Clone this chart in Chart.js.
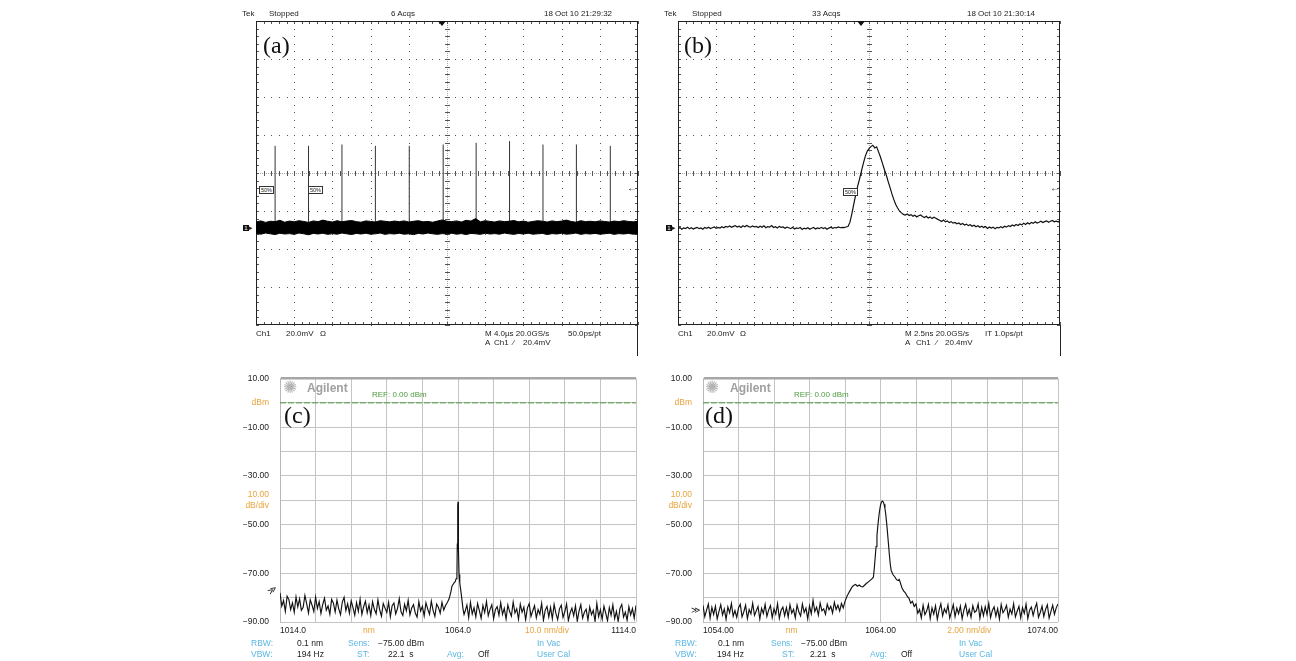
<!DOCTYPE html>
<html><head><meta charset="utf-8">
<script src="https://cdn.jsdelivr.net/npm/chart.js@4.4.1/dist/chart.umd.min.js"></script>
<style>
html,body{margin:0;padding:0;background:#fff;}
body{width:1296px;height:661px;position:relative;overflow:hidden;font-family:'Liberation Sans',Arial,sans-serif;}
canvas{position:absolute;}
.t{position:absolute;white-space:pre;line-height:1;color:#222;}
.s{font-size:8px;}
.o{font-size:8.5px;}
.lbl{font-family:'Liberation Serif','Times New Roman',serif;font-size:24px;color:#111;}
.bl{color:#5ab6e4;}
.or{color:#e9a43c;}
.gr{color:#4e9a3e;font-size:8px;}
.ag{font-weight:bold;font-size:12px;color:#a0a0a0;}
.star{font-size:17px;color:#b4b4b4;font-family:'DejaVu Sans',sans-serif;}
.vl{position:absolute;width:1px;background:#222;}
.tri{position:absolute;width:0;height:0;border-left:4px solid transparent;border-right:4px solid transparent;border-top:5px solid #111;}
.tag{position:absolute;border:1px solid #333;font-size:5.5px;line-height:6px;padding:0 1px;color:#222;background:#fff;}
.gnd{position:absolute;background:#111;color:#fff;font-size:6px;line-height:6px;width:6px;height:6px;text-align:center;}
</style></head>
<body>
<canvas id="ca" width="402" height="324" style="left:246px;top:11px"></canvas>
<canvas id="cb" width="402" height="324" style="left:668px;top:11px"></canvas>
<canvas id="cc" width="430" height="282" style="left:220px;top:362px"></canvas>
<canvas id="cd" width="430" height="282" style="left:643px;top:362px"></canvas>

<!-- scope (a) texts -->
<div class="t s" style="left:242px;top:10px">Tek</div>
<div class="t s" style="left:269px;top:10px">Stopped</div>
<div class="t s" style="left:391px;top:10px">6 Acqs</div>
<div class="t s" style="left:544px;top:10px">18 Oct 10 21:29:32</div>
<div class="t s" style="left:256px;top:330px">Ch1</div>
<div class="t s" style="left:286px;top:330px">20.0mV</div>
<div class="t s" style="left:320px;top:330px">Ω</div>
<div class="t s" style="left:485px;top:330px">M 4.0µs 20.0GS/s</div>
<div class="t s" style="left:568px;top:330px">50.0ps/pt</div>
<div class="t s" style="left:485px;top:338.5px">A</div>
<div class="t s" style="left:494px;top:338.5px">Ch1</div>
<div class="t s" style="left:513px;top:338.5px">⁄</div>
<div class="t s" style="left:523px;top:338.5px">20.4mV</div>
<div class="vl" style="left:637px;top:325px;height:31px"></div>
<div class="tri" style="left:438px;top:21px"></div>
<div class="tag" style="left:259px;top:186px">50%</div>
<div class="tag" style="left:308px;top:186px">50%</div>
<div class="t" style="left:627px;top:183px;font-size:10px">←</div>
<div class="gnd" style="left:243px;top:225px">1</div>
<div class="t" style="left:249px;top:224px;font-size:7px">▸</div>
<div class="t lbl" style="left:263px;top:33px">(a)</div>

<!-- scope (b) texts -->
<div class="t s" style="left:664px;top:10px">Tek</div>
<div class="t s" style="left:692px;top:10px">Stopped</div>
<div class="t s" style="left:812px;top:10px">33 Acqs</div>
<div class="t s" style="left:967px;top:10px">18 Oct 10 21:30:14</div>
<div class="t s" style="left:678px;top:330px">Ch1</div>
<div class="t s" style="left:707px;top:330px">20.0mV</div>
<div class="t s" style="left:740px;top:330px">Ω</div>
<div class="t s" style="left:905px;top:330px">M 2.5ns 20.0GS/s</div>
<div class="t s" style="left:985px;top:330px">IT 1.0ps/pt</div>
<div class="t s" style="left:905px;top:338.5px">A</div>
<div class="t s" style="left:916px;top:338.5px">Ch1</div>
<div class="t s" style="left:936px;top:338.5px">⁄</div>
<div class="t s" style="left:945px;top:338.5px">20.4mV</div>
<div class="vl" style="left:1060px;top:325px;height:31px"></div>
<div class="tri" style="left:857px;top:21px"></div>
<div class="tag" style="left:843px;top:188px">50%</div>
<div class="t" style="left:1050px;top:183px;font-size:10px">←</div>
<div class="gnd" style="left:666px;top:225px">1</div>
<div class="t" style="left:672px;top:224px;font-size:7px">▸</div>
<div class="t lbl" style="left:684px;top:33px">(b)</div>

<!-- OSA (c) texts -->
<div class="t star" style="left:283px;top:379px">✺</div>
<div class="t ag" style="left:307px;top:382px">Agilent</div>
<div class="t gr" style="left:372px;top:391px">REF: 0.00 dBm</div>
<div class="t lbl" style="left:284px;top:403px">(c)</div>
<div class="t" style="left:268px;top:586px;font-size:9px;transform:rotate(-35deg)">≫</div>
<div class="t o bl" style="left:251px;top:639px">RBW:</div>
<div class="t o" style="left:297px;top:639px">0.1 nm</div>
<div class="t o bl" style="left:348px;top:639px">Sens:</div>
<div class="t o" style="left:378px;top:639px">−75.00 dBm</div>
<div class="t o bl" style="left:537px;top:639px">In Vac</div>
<div class="t o bl" style="left:251px;top:650px">VBW:</div>
<div class="t o" style="left:297px;top:650px">194 Hz</div>
<div class="t o bl" style="left:357px;top:650px">ST:</div>
<div class="t o" style="left:388px;top:650px">22.1  s</div>
<div class="t o bl" style="left:447px;top:650px">Avg:</div>
<div class="t o" style="left:478px;top:650px">Off</div>
<div class="t o bl" style="left:537px;top:650px">User Cal</div>

<!-- OSA (d) texts -->
<div class="t star" style="left:705px;top:379px">✺</div>
<div class="t ag" style="left:730px;top:382px">Agilent</div>
<div class="t gr" style="left:794px;top:391px">REF: 0.00 dBm</div>
<div class="t lbl" style="left:705px;top:403px">(d)</div>
<div class="t" style="left:691px;top:606px;font-size:9px">≫</div>
<div class="t o bl" style="left:675px;top:639px">RBW:</div>
<div class="t o" style="left:718px;top:639px">0.1 nm</div>
<div class="t o bl" style="left:771px;top:639px">Sens:</div>
<div class="t o" style="left:801px;top:639px">−75.00 dBm</div>
<div class="t o bl" style="left:959px;top:639px">In Vac</div>
<div class="t o bl" style="left:675px;top:650px">VBW:</div>
<div class="t o" style="left:717px;top:650px">194 Hz</div>
<div class="t o bl" style="left:782px;top:650px">ST:</div>
<div class="t o" style="left:810px;top:650px">2.21  s</div>
<div class="t o bl" style="left:870px;top:650px">Avg:</div>
<div class="t o" style="left:901px;top:650px">Off</div>
<div class="t o bl" style="left:959px;top:650px">User Cal</div>

<script>
// ---------------- Panel (a): oscilloscope, pulse train (time in µs, voltage in mV) ----------------
const timeRangeA = [-20, 20];          // 4.0 µs/div, 10 div
const voltRangeA = [-51, 109];         // 20 mV/div, 8 div, ground marker 1.45 div below centre
const envStartA = -20, envStepA = 0.5; // sampling of the noise band envelopes
const upperA = [
 3.2, 3.8, 3.0, 3.6, 3.4, 4.1, 3.1, 3.7, 3.3, 3.9,
 3.5, 3.0, 3.8, 3.4, 4.2, 3.6, 3.2, 3.9, 3.3, 3.7,
 4.0, 3.4, 3.1, 3.8, 3.5, 3.2, 3.9, 3.6, 3.3, 3.7,
 3.4, 3.8, 3.2, 3.6, 3.9, 3.3, 3.5, 3.1, 3.7, 4.3,
 3.6, 3.4, 3.8, 3.2, 4.1, 3.7, 5.0, 3.3, 3.9, 3.5,
 3.2, 3.8, 3.4, 3.6, 4.0, 3.3, 3.7, 3.1, 3.5, 3.9,
 3.6, 3.2, 3.8, 3.4, 3.7, 4.2, 3.5, 3.1, 3.9, 3.4,
 3.6, 3.3, 3.8, 3.5, 3.2, 3.7, 3.4, 3.9, 3.5, 3.3,
 3.6];
const lowerA = [
 -2.8, -3.2, -2.6, -3.0, -3.4, -2.7, -3.1, -2.9, -3.3, -2.6,
 -3.0, -3.5, -2.8, -3.1, -2.7, -3.3, -2.9, -3.2, -2.6, -3.0,
 -3.4, -2.8, -3.1, -2.7, -3.2, -3.0, -2.6, -3.3, -2.9, -3.1,
 -2.7, -3.2, -3.0, -3.4, -2.8, -3.1, -2.6, -3.0, -3.3, -2.9,
 -3.1, -2.7, -3.2, -2.9, -3.4, -2.8, -3.0, -3.3, -2.7, -3.1,
 -2.9, -3.2, -2.6, -3.0, -3.3, -2.8, -3.1, -2.7, -3.2, -3.0,
 -2.8, -3.4, -2.9, -3.1, -2.7, -3.2, -3.0, -2.6, -3.3, -2.9,
 -3.1, -2.8, -3.2, -3.0, -2.7, -3.3, -2.9, -3.1, -2.8, -3.2,
 -3.0];
const spikeTimesA = [-18.0, -14.5, -11.0, -7.5, -3.95, -0.4, 3.05, 6.55, 10.05, 13.55, 17.1];
const spikePeaksA = [43.3, 43.3, 44.0, 43.3, 43.3, 44.0, 44.9, 45.8, 44.0, 44.0, 43.3];

// ---------------- Panel (b): oscilloscope, single pulse (time in ns, voltage in mV) ----------------
const timeRangeB = [-12.5, 12.5];      // 2.5 ns/div
const voltRangeB = [-51, 109];
const tStartB = -12.5, tStepB = 0.125;
const voltB = [
 -0.4, 0.3, -0.6, 0.1, -0.2, 0.5, -0.3, 0.2, -0.5, 0.0, 0.4, -0.3, 0.1, -0.6, 0.3, -0.1, 0.5, -0.2, 0.2, 0.6, -0.1, 0.4, 0.0, 0.7, 0.2, 0.9,
 0.5, 1.1, 0.4, 0.9, 1.3, 0.6, 1.0, 0.3, 1.2, 0.7, 1.4, 0.8, 0.5, 1.1, 0.6, 0.9, 0.3, 1.0,
 0.4, 1.2, 0.2, 0.8, 0.5, 1.3, 0.3, 0.7, 0.1, 0.9, 0.4, 0.6, -0.1, 0.5, 0.2,
 -0.3, 0.4, -0.5, 0.1, -0.2, 0.3, -0.7, 0.0, -0.4, 0.2, -0.6, -0.1, 0.3, -0.5, 0.1, -0.3, 0.4, -0.2, 0.2, -0.6, 0.0, 0.5, -0.1, 0.3, 0.1, 0.6,
 0.2, 0.4, 0.3, 0.6,
 0.8, 3.0, 7.4, 12.5, 17.4, 21.8, 25.6, 29.8, 33.9, 37.6, 40.3, 41.8, 42.9, 43.6, 42.2, 42.8,
 40.1, 37.4, 34.2, 31.0, 28.1, 24.6, 21.4, 18.0, 15.0, 12.4, 10.6, 8.9, 8.0, 7.2, 6.9, 7.4,
 6.6, 7.1, 6.2, 6.8, 5.9, 6.5, 6.9, 6.1,
 5.6, 6.2, 5.3, 5.9, 5.0, 5.7, 5.2, 4.6,
 4.1, 3.5, 4.2, 3.3, 3.8, 2.9, 3.4, 2.6,
 3.0, 2.3, 2.7, 1.9, 2.4, 1.6, 2.1, 1.3,
 1.8, 1.0, 1.5, 0.7, 1.2, 0.4, 1.0, 0.3,
 0.8, -0.2, 0.6, 0.0, 0.5, -0.3, 0.4, 0.1,
 0.7, 0.2, 1.0, 0.5, 1.3, 0.8, 1.6, 1.1,
 1.9, 1.4, 2.2, 1.7, 2.5, 1.9, 2.8, 2.2,
 3.0, 2.5, 3.3, 2.7, 3.1, 3.6, 2.9, 3.4,
 3.8, 3.1, 3.6, 4.0, 3.3, 3.7, 3.2, 3.9];

// ---------------- Panel (c): spectrum 1014–1114 nm (dBm) ----------------
const wlRangeC = [1014, 1114];
const wlLabelPosC = [1014, 1039, 1064, 1089, 1114];
const wlLabelTextC = ['1014.0', 'nm', '1064.0', '10.0 nm/div', '1114.0'];
const noiseLeftStartC = 1014, noiseStepC = 0.5;
const noiseLeftC = [
 -78.0, -83.5, -81.2, -85.6, -79.4, -80.8, -84.9, -82.1, -86.0, -79.7,
 -83.8, -80.5, -85.2, -84.0, -79.1, -82.6, -86.3, -80.9, -83.1, -85.7,
 -79.8, -84.4, -81.6, -86.5, -82.8, -80.2, -85.1, -83.4, -86.8, -80.7,
 -82.3, -85.9, -81.0, -84.6, -87.0, -81.8, -79.9, -85.3, -82.5, -86.4,
 -81.3, -84.1, -87.2, -82.0, -85.6, -80.6, -86.9, -83.7, -81.5, -86.2,
 -83.0, -87.4, -81.7, -84.8, -86.6, -80.9, -85.0, -87.6, -82.4, -84.3,
 -86.1, -81.9, -87.8, -83.3, -82.2, -86.7, -84.5, -80.4, -85.8, -87.3,
 -82.7, -85.4, -81.1, -87.1, -84.2, -82.9, -86.3, -88.0, -81.6, -85.5,
 -83.6, -87.5, -82.1, -84.7, -86.8, -81.4, -85.2, -87.7, -82.6, -84.0,
 -86.4, -81.9, -85.1, -83.2, -82.0];
const peakWlC = [1061.5, 1062.0, 1062.3, 1062.6, 1062.9, 1063.2, 1063.5, 1063.7, 1063.8, 1063.9, 1063.95, 1064.0, 1064.05, 1064.1, 1064.2, 1064.3, 1064.5, 1064.8, 1065.1, 1065.4, 1065.7];
const peakPwC = [-80.5, -77.6, -75.3, -74.6, -73.9, -73.4, -72.2, -70.8, -58.0, -47.0, -42.5, -40.6, -41.5, -46.0, -60.0, -70.5, -74.0, -77.2, -80.8, -84.6, -86.9];
const noiseRightStartC = 1066;
const noiseRightC = [
 -85.6, -83.0, -88.2, -81.9, -86.7, -84.1, -87.9, -82.4, -85.3, -88.5,
 -83.2, -86.1, -81.6, -87.4, -84.8, -82.9, -88.6, -85.0, -83.7, -87.2,
 -82.1, -86.9, -84.4, -88.8, -83.0, -85.7, -87.6, -81.8, -86.3, -84.6,
 -88.9, -82.7, -86.0, -83.9, -89.1, -84.2, -82.5, -87.7, -85.4, -83.3,
 -88.3, -84.9, -86.8, -82.3, -89.3, -85.1, -83.6, -87.9, -84.0, -88.7,
 -82.8, -86.5, -89.0, -84.6, -83.1, -88.1, -85.8, -82.6, -89.4, -86.2,
 -84.3, -87.4, -83.4, -89.6, -85.5, -82.9, -88.4, -86.0, -84.7, -89.2,
 -83.8, -87.0, -85.2, -89.7, -82.4, -87.8, -84.9, -88.9, -83.5, -86.4,
 -89.5, -84.1, -87.3, -83.0, -88.6, -85.6, -89.8, -84.4, -82.8, -88.0,
 -85.9, -89.3, -83.7, -87.1, -84.5, -88.4, -83.2];

// ---------------- Panel (d): spectrum 1054–1074 nm (dBm) ----------------
const wlRangeD = [1054, 1074];
const wlLabelPosD = [1054, 1059, 1064, 1069, 1074];
const wlLabelTextD = ['1054.00', 'nm', '1064.00', '2.00 nm/div', '1074.00'];
const noiseLeftStartD = 1054, noiseStepD = 0.1;
const noiseLeftD = [
 -83.2, -87.8, -85.1, -82.6, -88.4, -84.0, -86.9, -83.5, -88.7, -85.6,
 -82.9, -87.1, -84.7, -88.9, -83.8, -86.2, -82.4, -87.6, -85.3, -88.1,
 -84.2, -82.7, -87.9, -85.8, -83.1, -88.6, -84.9, -86.7, -82.3, -87.3,
 -85.5, -83.6, -88.8, -84.4, -86.5, -82.8, -87.7, -85.0, -83.3, -88.2,
 -84.6, -86.8, -82.5, -88.5, -85.2, -83.9, -87.4, -84.1, -88.0, -82.9,
 -86.4, -84.8, -88.3, -83.0, -85.9, -87.5, -82.6, -86.1, -84.3, -88.7,
 -83.4, -86.6, -81.1, -85.7, -83.9, -87.2, -82.2, -85.4, -84.6, -86.9,
 -82.7, -85.0, -83.6, -86.3, -81.9, -84.8, -83.1, -85.5, -82.4, -84.2];
const peakWlD = [1062.0, 1062.1, 1062.2, 1062.3, 1062.4, 1062.5, 1062.6, 1062.7, 1062.8, 1062.9, 1063.0, 1063.1, 1063.2, 1063.3, 1063.4, 1063.5, 1063.6, 1063.65, 1063.7, 1063.75, 1063.8, 1063.85, 1063.9, 1063.95, 1064.0, 1064.05, 1064.1, 1064.15, 1064.2, 1064.25, 1064.3, 1064.35, 1064.4, 1064.45, 1064.5, 1064.55, 1064.6, 1064.7, 1064.8, 1064.9, 1065.0, 1065.05, 1065.1, 1065.2, 1065.3, 1065.4, 1065.5, 1065.6, 1065.7, 1065.8, 1065.9];
const peakPwD = [-81.5, -79.6, -78.2, -76.9, -75.6, -74.9, -74.6, -75.3, -74.8, -75.4, -75.6, -74.9, -74.2, -73.6, -73.0, -72.4, -71.6, -68.0, -63.5, -59.0, -54.5, -50.5, -47.0, -44.2, -42.0, -40.8, -40.3, -40.6, -41.6, -43.4, -46.0, -49.6, -53.8, -58.0, -62.4, -66.2, -68.8, -70.5, -71.4, -72.6, -73.0, -72.5, -73.4, -75.8, -77.2, -78.0, -79.4, -80.2, -82.3, -81.5, -83.6];
const noiseRightStartD = 1066.0;
const noiseRightD = [
 -82.6, -86.4, -84.9, -88.3, -83.1, -87.0, -85.5, -82.8, -88.6, -84.2,
 -86.8, -83.4, -88.9, -85.1, -82.5, -87.5, -84.6, -86.3, -83.0, -88.4,
 -85.7, -82.9, -87.8, -84.3, -86.6, -83.5, -88.7, -85.0, -82.7, -87.2,
 -84.8, -88.1, -83.3, -86.0, -85.4, -82.6, -88.5, -84.0, -87.4, -83.7,
 -86.9, -82.4, -88.2, -85.3, -83.8, -87.6, -84.5, -88.8, -82.8, -86.2,
 -85.0, -83.2, -88.0, -84.7, -86.7, -82.5, -87.9, -85.6, -83.6, -88.3,
 -84.1, -86.5, -82.7, -88.6, -85.2, -83.9, -87.3, -84.4, -82.3, -88.1,
 -86.1, -83.5, -87.7, -84.8, -82.9, -88.4, -85.7, -83.1, -86.8, -84.2,
 -82.6];

// ---------------- shared OSA axis labels ----------------
const osaPowerRange = [-90, 10];
const osaYTickValues = [10, 0, -10, -30, -40, -50, -70, -90];
const osaYTickText = ['10.00', 'dBm', '−10.00', '−30.00', ['10.00', 'dB/div'], '−50.00', '−70.00', '−90.00'];
const osaYOrangeTicks = [0, -40];
const REF_DBM = 0;

// ---------------- build ----------------
const ORANGE = '#e9a43c';
const baseOpts = {
  responsive: false, maintainAspectRatio: false, animation: false, devicePixelRatio: 1, events: [],
  plugins: { legend: { display: false }, tooltip: { enabled: false } },
  elements: { point: { radius: 0 }, line: { tension: 0 } }
};
const pts = (xs, ys) => xs.map((x, i) => ({ x, y: ys[i] }));
const series = (start, step, ys) => ys.map((y, i) => ({ x: +(start + i * step).toFixed(4), y }));

// Oscilloscope graticule drawn from the chart's own scales
const scopeGraticule = {
  id: 'scopeGraticule',
  beforeDatasetsDraw(chart) {
    const ctx = chart.ctx, xs = chart.scales.x, ys = chart.scales.y;
    const NX = 10, NY = 8, SUB = 5;
    const xp = k => Math.round(xs.getPixelForValue(xs.min + (xs.max - xs.min) * k / (NX * SUB)));
    const yp = k => Math.round(ys.getPixelForValue(ys.min + (ys.max - ys.min) * k / (NY * SUB)));
    const L = xp(0), R = xp(NX * SUB), B = yp(0), T = yp(NY * SUB);
    ctx.save();
    ctx.fillStyle = '#555';
    for (let i = 1; i < NX; i++) { if (i === NX / 2) continue; const x = xp(i * SUB); for (let k = 0; k <= NY * SUB; k++) ctx.fillRect(x, yp(k), 1, 1); }
    for (let j = 1; j < NY; j++) { if (j === NY / 2) continue; const y = yp(j * SUB); for (let k = 0; k <= NX * SUB; k++) ctx.fillRect(xp(k), y, 1, 1); }
    const cx = xp(NX * SUB / 2), cy = yp(NY * SUB / 2);
    ctx.fillStyle = '#a8a8a8';
    for (let y = T; y <= B; y += 2) ctx.fillRect(cx, y, 1, 1);
    for (let x = L; x <= R; x += 2) ctx.fillRect(x, cy, 1, 1);
    ctx.fillStyle = '#555';
    for (let k = 0; k <= NY * SUB; k++) ctx.fillRect(cx - 2, yp(k), 5, 1);
    for (let k = 0; k <= NX * SUB; k++) ctx.fillRect(xp(k), cy - 2, 1, 5);
    for (let k = 0; k <= NX * SUB; k++) { ctx.fillRect(xp(k), T, 1, 3); ctx.fillRect(xp(k), B - 3, 1, 3); }
    for (let k = 0; k <= NY * SUB; k++) { ctx.fillRect(L, yp(k), 3, 1); ctx.fillRect(R - 3, yp(k), 3, 1); }
    ctx.strokeStyle = '#222'; ctx.lineWidth = 1;
    ctx.strokeRect(L + 0.5, T + 0.5, R - L - 1, B - T - 1);
    ctx.restore();
  }
};

function scopeOptions(xr, yr) {
  return Object.assign({}, baseOpts, {
    layout: { padding: 10 },
    scales: {
      x: { type: 'linear', display: false, min: xr[0], max: xr[1] },
      y: { type: 'linear', display: false, min: yr[0], max: yr[1] }
    }
  });
}

// (a)
const spikeData = [];
spikeTimesA.forEach((t, i) => { spikeData.push({ x: t, y: 0 }, { x: t, y: spikePeaksA[i] }, { x: t, y: null }); });
new Chart(document.getElementById('ca'), {
  type: 'line',
  data: { datasets: [
    { data: series(envStartA, envStepA, upperA), borderColor: '#000', borderWidth: 1, backgroundColor: '#000', fill: '+1', pointRadius: 0 },
    { data: series(envStartA, envStepA, lowerA), borderColor: '#000', borderWidth: 1, fill: false, pointRadius: 0 },
    { data: spikeData, borderColor: '#333', borderWidth: 1, fill: false, pointRadius: 0, spanGaps: false }
  ] },
  options: scopeOptions(timeRangeA, voltRangeA),
  plugins: [scopeGraticule]
});

// (b)
new Chart(document.getElementById('cb'), {
  type: 'line',
  data: { datasets: [
    { data: series(tStartB, tStepB, voltB), borderColor: '#111', borderWidth: 1.2, fill: false, pointRadius: 0 }
  ] },
  options: scopeOptions(timeRangeB, voltRangeB),
  plugins: [scopeGraticule]
});

// OSA charts
function osaChart(id, cfg) {
  const tickFont = { family: "'Liberation Sans', Arial, sans-serif", size: 8.5, lineHeight: 1.3 };
  const trace = series(cfg.leftStart, cfg.step, cfg.left)
    .concat(pts(cfg.peakWl, cfg.peakPw))
    .concat(series(cfg.rightStart, cfg.step, cfg.right));
  return new Chart(document.getElementById(id), {
    type: 'line',
    data: { datasets: [
      { data: trace, borderColor: '#111', borderWidth: 1.15, fill: false, pointRadius: 0 },
      { data: [{ x: cfg.range[0], y: REF_DBM }, { x: cfg.range[1], y: REF_DBM }], borderColor: '#4e9a3e', borderWidth: 1, borderDash: [6, 2], fill: false, pointRadius: 0 }
    ] },
    options: Object.assign({}, baseOpts, {
      layout: { padding: { left: 10, right: cfg.padR, top: 15, bottom: 6 } },
      scales: {
        x: {
          type: 'linear', min: cfg.range[0], max: cfg.range[1],
          afterBuildTicks: s => { const a = []; for (let k = 0; k <= 10; k++) a.push({ value: s.min + (s.max - s.min) * k / 10 }); s.ticks = a; },
          ticks: { display: false }, grid: { color: '#c4c4c4', drawTicks: false, lineWidth: 1 }, border: { display: false },
          afterFit: s => { s.height = 0; }
        },
        x2: {
          type: 'linear', position: 'bottom', min: cfg.range[0], max: cfg.range[1],
          afterBuildTicks: s => { s.ticks = cfg.labelPos.map(v => ({ value: v })); },
          grid: { display: false, drawTicks: false }, border: { display: false },
          ticks: { autoSkip: false, maxRotation: 0, align: 'inner', padding: 3, font: tickFont,
            color: c => (c.index === 1 || c.index === 3) ? ORANGE : '#222',
            callback: (v, i) => cfg.labelText[i] },
          afterFit: s => { s.height = 16; }
        },
        y: {
          type: 'linear', min: osaPowerRange[0], max: osaPowerRange[1],
          ticks: { stepSize: 10, autoSkip: false, padding: 11, font: tickFont,
            color: c => osaYOrangeTicks.includes(c.tick.value) ? ORANGE : '#222',
            callback: v => { const i = osaYTickValues.indexOf(v); return i < 0 ? '' : osaYTickText[i]; } },
          grid: { drawTicks: false,
            color: c => (c.tick && c.tick.value === osaPowerRange[1]) ? '#a6a6a6' : '#c4c4c4',
            lineWidth: c => (c.tick && c.tick.value === osaPowerRange[1]) ? 2.5 : 1 },
          border: { color: '#b8b8b8', width: 1 },
          afterFit: s => { s.width = 50; }
        }
      }
    })
  });
}

osaChart('cc', { range: wlRangeC, labelPos: wlLabelPosC, labelText: wlLabelTextC, padR: 14,
  leftStart: noiseLeftStartC, step: noiseStepC, left: noiseLeftC, peakWl: peakWlC, peakPw: peakPwC,
  rightStart: noiseRightStartC, right: noiseRightC });
osaChart('cd', { range: wlRangeD, labelPos: wlLabelPosD, labelText: wlLabelTextD, padR: 15,
  leftStart: noiseLeftStartD, step: noiseStepD, left: noiseLeftD, peakWl: peakWlD, peakPw: peakPwD,
  rightStart: noiseRightStartD, right: noiseRightD });
</script>
</body></html>
